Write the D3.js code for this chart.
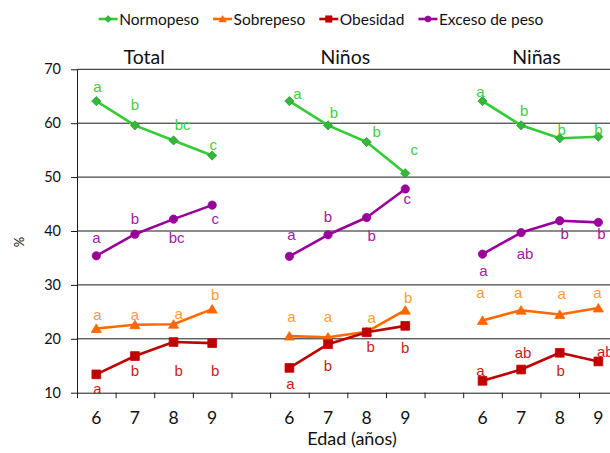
<!DOCTYPE html>
<html><head><meta charset="utf-8">
<script src="https://cdn.jsdelivr.net/npm/d3@7"></script>
<style>body{margin:0;background:#fff}svg{display:block}</style>
</head><body>
<svg id="c" width="610" height="453"></svg>
<script>
// ---- data ----
const groups = ['Total', 'Niños', 'Niñas'];
const ages = ['6', '7', '8', '9'];
const categories = ['6','7','8','9','','6','7','8','9','','6','7','8','9'];
const yTicks = [10, 20, 30, 40, 50, 60, 70];
const seriesNames = ['Normopeso', 'Sobrepeso', 'Obesidad', 'Exceso de peso'];

const normopeso = [[64.1, 59.6, 56.8, 54.0], [64.1, 59.6, 56.5, 50.7], [64.1, 59.6, 57.2, 57.5]];
const sobrepeso = [[21.9, 22.6, 22.7, 25.5], [20.5, 20.3, 21.3, 25.3], [23.4, 25.3, 24.5, 25.7]];
const obesidad  = [[13.4, 16.8, 19.4, 19.2], [14.6, 19.0, 21.2, 22.4], [12.2, 14.3, 17.4, 15.8]];
const exceso    = [[35.4, 39.4, 42.2, 44.8], [35.3, 39.3, 42.5, 47.8], [35.7, 39.7, 41.9, 41.6]];

const normopesoLetters = [['a','b','bc','c'], ['a','b','b','c'], ['a','b','b','b']];
const sobrepesoLetters = [['a','a','a','b'], ['a','a','a','b'], ['a','a','a','a']];
const obesidadLetters  = [['a','b','b','b'], ['a','b','b','b'], ['a','ab','b','ab']];
const excesoLetters    = [['a','b','bc','c'], ['a','b','b','c'], ['a','ab','b','b']];

// ---- layout (label offsets in px: [dx, baseline dy]) ----
const normopesoOff = [[[1,-9],[0,-15],[9,-10],[1,-6]], [[8,-2],[6,-7],[10,-5],[9,-18]], [[-2,-4],[3,-9],[2,-3],[0,-2]]];
const sobrepesoOff = [[[1,-9],[0,-5],[5,-5],[3,-9]], [[2,-14],[0,-15],[5,-9],[3,-7]], [[-2,-22],[-3,-12],[2,-16],[-1,-10]]];
const obesidadOff  = [[[1,20],[0,20],[5,34],[3,33]], [[1,21],[0,27],[4,20],[0,27]], [[-2,-5],[2,-12],[1,23],[7,-4]]];
const excesoOff    = [[[0,-13],[0,-10],[3,24],[3,19]], [[2,-16],[0,-13],[5,23],[2,15]], [[1,22],[4,26],[5,18],[3,17]]];
const titleDx = [-10, -2, -4];

const series = [
  {name: seriesNames[0], values: normopeso, letters: normopesoLetters, off: normopesoOff, line: '#33CC33', fill: '#33B83A', stroke: '#2A9A30', label: '#44CC44', shape: 'diamond'},
  {name: seriesNames[1], values: sobrepeso, letters: sobrepesoLetters, off: sobrepesoOff, line: '#FF6A00', fill: '#FF6600', stroke: '#FF6600', label: '#FF9A40', shape: 'triangle'},
  {name: seriesNames[2], values: obesidad, letters: obesidadLetters, off: obesidadOff, line: '#C00000', fill: '#C00000', stroke: '#C00000', label: '#D01818', shape: 'square'},
  {name: seriesNames[3], values: exceso, letters: excesoLetters, off: excesoOff, line: '#990099', fill: '#990099', stroke: '#990099', label: '#A020A0', shape: 'circle'}
];

const svg = d3.select('#c');
const plotLeft = 77, plotTop = 69.3, plotBottom = 392.7;
const bandW = 38.62;
const plotRight = plotLeft + bandW * categories.length;

const x = d3.scaleBand().domain(d3.range(categories.length)).range([plotLeft, plotRight]).paddingInner(0).paddingOuter(0);
const xb = d3.scaleLinear().domain([0, categories.length]).range([plotLeft, plotRight]);
const y = d3.scaleLinear().domain([10, 70]).range([plotBottom, plotTop]);
const cx = (g, i) => x(g * 5 + i) + x.bandwidth() / 2;

const calibri = 'Lato, "Open Sans", sans-serif';

// gridlines
svg.append('g').selectAll('line').data(yTicks.filter(t => t > 10)).join('line')
  .attr('x1', plotLeft).attr('x2', plotRight).attr('y1', d => y(d)).attr('y2', d => y(d))
  .attr('stroke', '#1a1a1a').attr('stroke-width', 1);

// y axis
const yAxis = svg.append('g').attr('transform', `translate(${plotLeft},0)`)
  .call(d3.axisLeft(y).tickValues(yTicks).tickSize(6).tickPadding(10).tickSizeOuter(0));
yAxis.select('.domain').attr('stroke', '#1a1a1a');
yAxis.selectAll('line').attr('stroke', '#1a1a1a');
yAxis.selectAll('text').attr('font-family', calibri).attr('font-size', 14.5).attr('fill', '#111');

// x axis: boundary ticks
const xAxisB = svg.append('g').attr('transform', `translate(0,${plotBottom})`)
  .call(d3.axisBottom(xb).tickValues(d3.range(categories.length + 1)).tickSize(5.5).tickFormat('').tickSizeOuter(0));
xAxisB.select('.domain').attr('stroke', '#1a1a1a');
xAxisB.selectAll('line').attr('stroke', '#1a1a1a');
// category labels
const xAxisL = svg.append('g').attr('transform', `translate(0,${plotBottom})`)
  .call(d3.axisBottom(x).tickSize(0).tickPadding(19).tickFormat(i => categories[i]));
xAxisL.select('.domain').remove();
xAxisL.selectAll('text').attr('font-family', calibri).attr('font-size', 17.5).attr('fill', '#111');

// axis titles
svg.append('text').attr('x', 352).attr('y', 445).attr('text-anchor', 'middle')
  .attr('font-family', calibri).attr('font-size', 18).attr('fill', '#111').text('Edad (años)');
svg.append('text').attr('transform', 'translate(24,242) rotate(-90)').attr('text-anchor', 'middle')
  .attr('font-family', calibri).attr('font-size', 13).attr('fill', '#111').text('%');

// group titles
groups.forEach((g, gi) => {
  const cxm = (cx(gi, 0) + cx(gi, 3)) / 2 + titleDx[gi];
  svg.append('text').attr('x', cxm).attr('y', 64).attr('text-anchor', 'middle')
    .attr('font-family', calibri).attr('font-size', 19.5).attr('fill', '#111').text(g);
});

function markerPath(shape, s) {
  const p = d3.path();
  if (shape === 'diamond') { p.moveTo(0, -s); p.lineTo(s, 0); p.lineTo(0, s); p.lineTo(-s, 0); p.closePath(); }
  else if (shape === 'triangle') { p.moveTo(0, -s); p.lineTo(s * 1.1, s * 0.85); p.lineTo(-s * 1.1, s * 0.85); p.closePath(); }
  else if (shape === 'square') { p.rect(-s * 0.95, -s * 0.95, s * 1.9, s * 1.9); }
  else { p.arc(0, 0, s * 0.9, 0, Math.PI * 2); }
  return p.toString();
}

const line = d3.line().x(d => d[0]).y(d => d[1]);
const plot = svg.append('g');
series.forEach(s => {
  s.values.forEach((vals, gi) => {
    const pts = vals.map((v, i) => [cx(gi, i), y(v)]);
    plot.append('path').attr('d', line(pts)).attr('fill', 'none')
      .attr('stroke', s.line).attr('stroke-width', 2.6).attr('stroke-linejoin', 'round');
    plot.append('g').selectAll('path').data(pts).join('path')
      .attr('transform', d => `translate(${d[0]},${d[1]})`)
      .attr('d', markerPath(s.shape, 4.6)).attr('fill', s.fill).attr('stroke', s.stroke).attr('stroke-width', 0.8);
  });
});
// letters
series.forEach(s => {
  s.values.forEach((vals, gi) => {
    vals.forEach((v, i) => {
      const o = s.off[gi][i];
      plot.append('text').attr('x', cx(gi, i) + o[0]).attr('y', y(v) + o[1])
        .attr('text-anchor', 'middle').attr('font-family', '"Liberation Sans", Arial, sans-serif')
        .attr('font-size', 15).attr('fill', s.label).text(s.letters[gi][i]);
    });
  });
});

// legend
const leg = svg.append('g');
let lx = 0;
series.forEach((s, i) => {
  const g = leg.append('g');
  g.append('line').attr('x1', 0).attr('x2', 19).attr('y1', 19).attr('y2', 19)
    .attr('stroke', s.line).attr('stroke-width', 2.6);
  g.append('path').attr('transform', 'translate(9.5,19)').attr('d', markerPath(s.shape, 3.4))
    .attr('fill', s.fill).attr('stroke', s.stroke).attr('stroke-width', 0.6);
  const t = g.append('text').attr('x', 20.5).attr('y', 24.5).attr('font-family', calibri)
    .attr('font-size', 15.5).attr('fill', '#111').text(s.name);
  const w = 20.5 + t.node().getComputedTextLength();
  g.attr('transform', `translate(${lx},0)`);
  lx += w + 14;
});
const legW = lx - 14;
leg.attr('transform', `translate(${321 - legW / 2},0)`);
</script>
</body></html>
